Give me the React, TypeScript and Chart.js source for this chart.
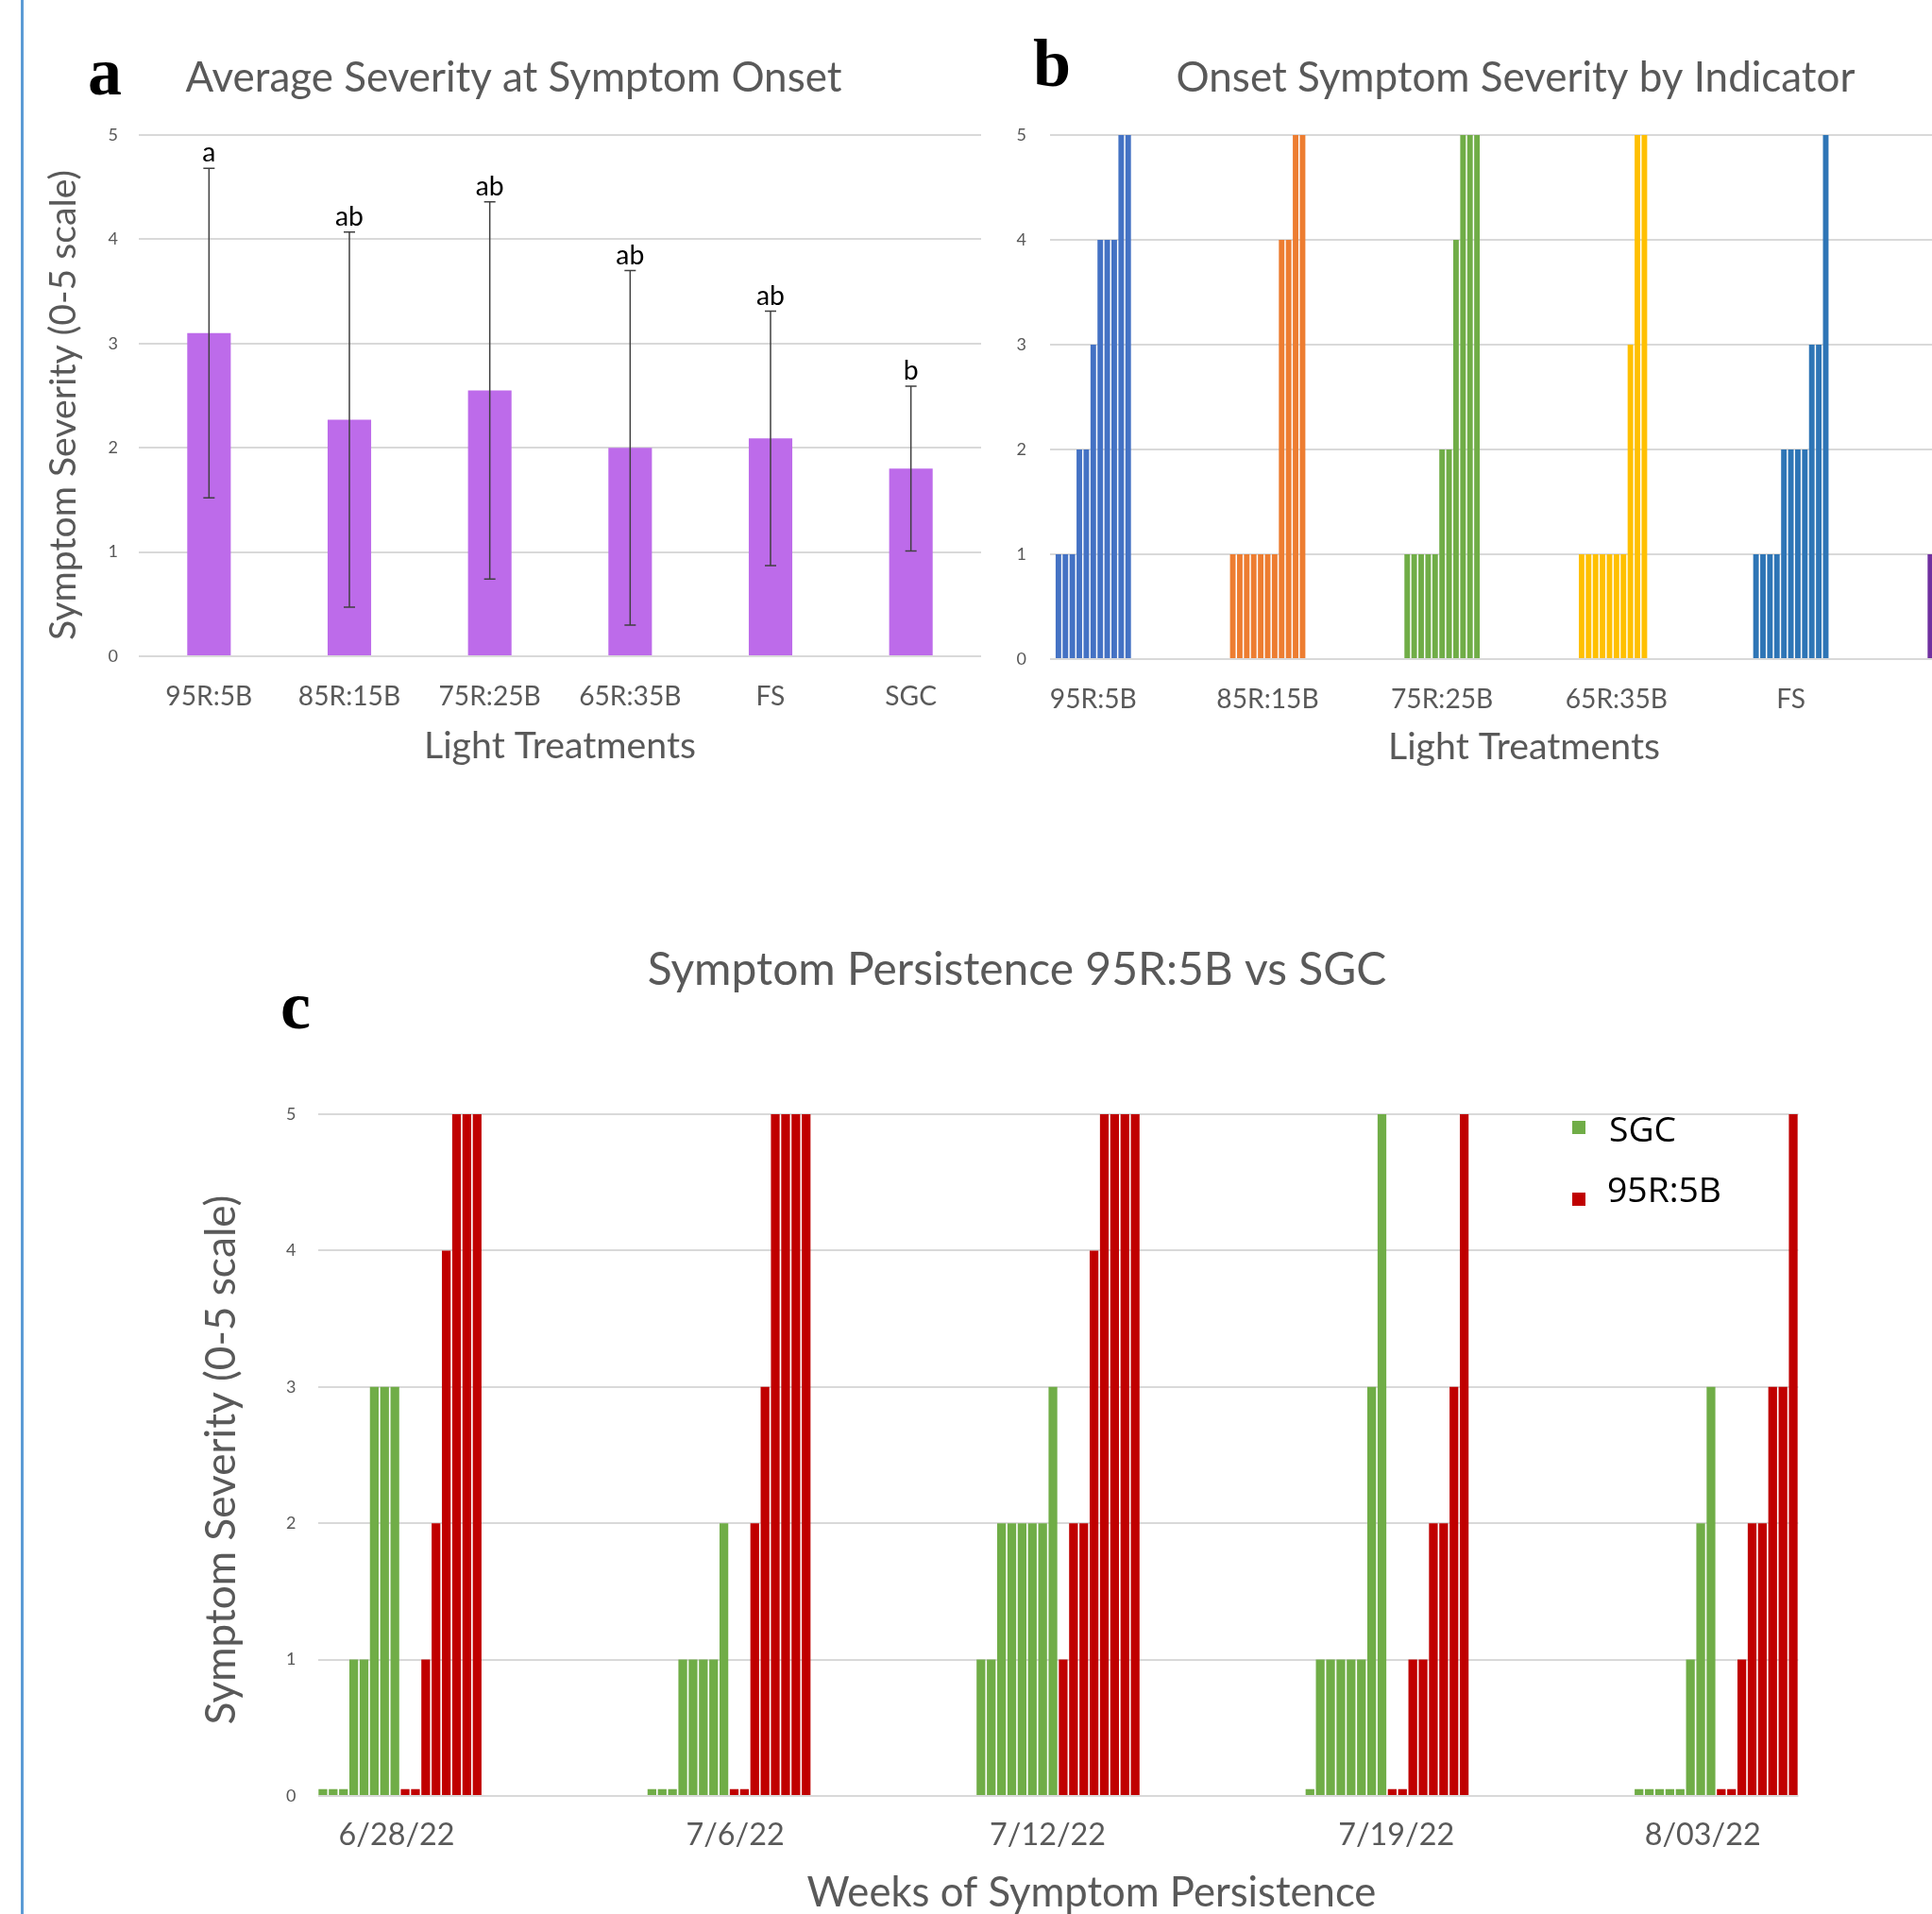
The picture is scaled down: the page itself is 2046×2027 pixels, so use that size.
import React, { useEffect, useRef } from "react";
import { Chart, registerables } from "chart.js";

Chart.register(...registerables);

// ---------------- data ----------------
// Panel a: mean onset severity (+/- SD) per light treatment
const treatments = ["95R:5B", "85R:15B", "75R:25B", "65R:35B", "FS", "SGC"];
const meanOnsetSeverity = [3.1, 2.27, 2.55, 2.0, 2.09, 1.8];
const sdOnsetSeverity = [1.58, 1.8, 1.81, 1.7, 1.22, 0.79];
const significanceLetters = ["a", "ab", "ab", "ab", "ab", "b"];

// Panel b: onset severity of each indicator plant, per treatment
const onset95R5B = [1, 1, 1, 2, 2, 3, 4, 4, 4, 5, 5];
const onset85R15B = [1, 1, 1, 1, 1, 1, 1, 4, 4, 5, 5];
const onset75R25B = [1, 1, 1, 1, 1, 2, 2, 4, 5, 5, 5];
const onset65R35B = [1, 1, 1, 1, 1, 1, 1, 3, 5, 5];
const onsetFS = [1, 1, 1, 1, 2, 2, 2, 2, 3, 3, 5];
const onsetSGC = [1, 1, 1, 1, 1, 2, 2, 3, 3, 3];
const onsetByTreatment = [onset95R5B, onset85R15B, onset75R25B, onset65R35B, onsetFS, onsetSGC];
const indicatorColors = ["#4472C4", "#ED7D31", "#70AD47", "#FFC000", "#2E75B6", "#7030A0"];

// Panel c: weekly severity per plant, SGC vs 95R:5B
const weekLabels = ["6/28/22", "7/6/22", "7/12/22", "7/19/22", "8/03/22"];
const sgcJun28 = [0.05, 0.05, 0.05, 1, 1, 3, 3, 3];
const sgcJul6 = [0.05, 0.05, 0.05, 1, 1, 1, 1, 2];
const sgcJul12 = [1, 1, 2, 2, 2, 2, 2, 3];
const sgcJul19 = [0.05, 1, 1, 1, 1, 1, 3, 5];
const sgcAug3 = [0.05, 0.05, 0.05, 0.05, 0.05, 1, 2, 3];
const r95Jun28 = [0.05, 0.05, 1, 2, 4, 5, 5, 5];
const r95Jul6 = [0.05, 0.05, 2, 3, 5, 5, 5, 5];
const r95Jul12 = [1, 2, 2, 4, 5, 5, 5, 5];
const r95Jul19 = [0.05, 0.05, 1, 1, 2, 2, 3, 5];
const r95Aug3 = [0.05, 0.05, 1, 2, 2, 3, 3, 5];
const sgcByWeek = [sgcJun28, sgcJul6, sgcJul12, sgcJul19, sgcAug3];
const r95ByWeek = [r95Jun28, r95Jul6, r95Jul12, r95Jul19, r95Aug3];

const severityTicks = [0, 1, 2, 3, 4, 5];

// ---------------- styling / layout ----------------
const GRAY = "#595959";
const GRID = "#d9d9d9";
const LATO = "Lato";
const SERIF = '"Liberation Serif"';
const OPEN = '"Open Sans"';
const SLOTS_B = 25; // slots per treatment group in panel b
const SLOTS_C = 32; // slots per week group in panel c
// hand-placed week label nudges (in slots, relative to group centre) as in the original figure
const weekLabelNudge = [-0.33, 0.6, -1.0, 0.9, -1.3];

const A = { x: 0, y: 0, w: 1060, h: 830, left: 147, top: 143, right: 1039, bottom: 695 };
const B = { x: 1040, y: 0, w: 1110, h: 830, left: 1112, top: 143, right: 2113, bottom: 698 };
const C = { x: 0, y: 900, w: 2046, h: 1127, left: 336.5, top: 1180, right: 1904.5, bottom: 1902 };

function fitSize(text: string, family: string, width: number, weight = "normal") {
  const c = document.createElement("canvas").getContext("2d") as CanvasRenderingContext2D;
  c.font = `${weight} 100px ${family}`;
  return (100 * width) / c.measureText(text).width;
}

type TextItem = {
  text: string;
  x: number;
  y: number;
  font: string;
  color: string;
  align?: CanvasTextAlign;
  rotate?: number;
};

function textPlugin(id: string, box: { x: number; y: number }, items: TextItem[]) {
  return {
    id,
    afterDraw(chart: any) {
      const ctx = chart.ctx as CanvasRenderingContext2D;
      for (const it of items) {
        ctx.save();
        ctx.translate(it.x - box.x, it.y - box.y);
        if (it.rotate) ctx.rotate(it.rotate);
        ctx.font = it.font;
        ctx.fillStyle = it.color;
        ctx.textAlign = it.align || "center";
        ctx.textBaseline = "alphabetic";
        ctx.fillText(it.text, 0, 0);
        ctx.restore();
      }
    },
  };
}

function layoutFor(box: typeof A) {
  return {
    padding: {
      left: 0,
      top: box.top - box.y,
      right: box.x + box.w - box.right,
      bottom: 0,
    },
  };
}

function yScale(box: typeof A, pad: number) {
  return {
    min: severityTicks[0],
    max: severityTicks[severityTicks.length - 1],
    afterBuildTicks: (s: any) => {
      s.ticks = severityTicks.map((v) => ({ value: v }));
    },
    ticks: { font: { family: LATO, size: 18 }, color: GRAY, padding: pad },
    grid: { color: GRID, lineWidth: 2, drawTicks: false },
    border: { display: false },
    afterFit: (s: any) => {
      s.width = box.left - box.x;
    },
  };
}

export default function App() {
  const refA = useRef<HTMLCanvasElement>(null);
  const refB = useRef<HTMLCanvasElement>(null);
  const refC = useRef<HTMLCanvasElement>(null);

  useEffect(() => {
    const charts: Chart[] = [];

    const sTitleA = fitSize("Average Severity at Symptom Onset", LATO, 695);
    const sTitleB = fitSize("Onset Symptom Severity by Indicator", LATO, 719);
    const sTitleC = fitSize("Symptom Persistence 95R:5B vs SGC", LATO, 783);
    const sYTitleA = fitSize("Symptom Severity (0-5 scale)", LATO, 498);
    const sYTitleC = fitSize("Symptom Severity (0-5 scale)", LATO, 561);
    const sXTitleAB = fitSize("Light Treatments", LATO, 288);
    const sXTitleC = fitSize("Weeks of Symptom Persistence", LATO, 603);
    const sTickAB = fitSize("95R:5B", LATO, 92);
    const sTickC = fitSize("6/28/22", LATO, 123);
    const sSig = fitSize("ab", LATO, 30);
    const sLegend = fitSize("95R:5B", OPEN, 121);

    // ---------- Panel a ----------
    const errorBars = {
      id: "errorBars",
      afterDatasetsDraw(chart: any) {
        const ctx = chart.ctx as CanvasRenderingContext2D;
        const meta = chart.getDatasetMeta(0);
        const ys = chart.scales.y;
        ctx.save();
        meta.data.forEach((bar: any, i: number) => {
          const m = meanOnsetSeverity[i];
          const sd = sdOnsetSeverity[i];
          const x = bar.x;
          const top = ys.getPixelForValue(m + sd);
          const bot = ys.getPixelForValue(m - sd);
          ctx.strokeStyle = "#404040";
          ctx.lineWidth = 1.5;
          ctx.beginPath();
          ctx.moveTo(x, top);
          ctx.lineTo(x, bot);
          ctx.moveTo(x - 6, top);
          ctx.lineTo(x + 6, top);
          ctx.moveTo(x - 6, bot);
          ctx.lineTo(x + 6, bot);
          ctx.stroke();
          ctx.fillStyle = "#000";
          ctx.font = `${sSig}px ${LATO}`;
          ctx.textAlign = "center";
          ctx.textBaseline = "alphabetic";
          ctx.fillText(significanceLetters[i], x, top - 7);
        });
        ctx.restore();
      },
    };

    if (refA.current) {
      charts.push(
        new Chart(refA.current, {
          type: "bar",
          data: {
            labels: treatments,
            datasets: [
              {
                label: "Average Severity at Symptom Onset",
                data: meanOnsetSeverity,
                backgroundColor: "#BD6BEA",
                categoryPercentage: 0.31,
                barPercentage: 1,
              },
            ],
          },
          options: {
            responsive: false,
            animation: false,
            devicePixelRatio: 1,
            layout: layoutFor(A),
            plugins: { legend: { display: false }, tooltip: { enabled: false } },
            scales: {
              x: {
                grid: { display: false },
                border: { display: false },
                ticks: {
                  font: { family: LATO, size: sTickAB },
                  color: GRAY,
                  padding: 729.5 - A.bottom - 0.6 * sTickAB,
                  maxRotation: 0,
                  autoSkip: false,
                },
                afterFit: (s: any) => {
                  s.height = A.y + A.h - A.bottom;
                },
              },
              y: yScale(A, 22),
            },
          } as any,
          plugins: [
            errorBars,
            textPlugin("textsA", A, [
              { text: "a", x: 111, y: 100, font: `bold 72px ${SERIF}`, color: "#000" },
              { text: "Average Severity at Symptom Onset", x: 544, y: 97, font: `${sTitleA}px ${LATO}`, color: GRAY },
              {
                text: "Symptom Severity (0-5 scale)",
                x: 69.5 + 0.258 * sYTitleA,
                y: 429,
                font: `${sYTitleA}px ${LATO}`,
                color: GRAY,
                rotate: -Math.PI / 2,
              },
              { text: "Light Treatments", x: 593, y: 803, font: `${sXTitleAB}px ${LATO}`, color: GRAY },
            ]),
          ] as any,
        })
      );
    }

    // ---------- Panel b ----------
    const pointsB: { x: number; y: number }[] = [];
    const colorsB: string[] = [];
    onsetByTreatment.forEach((vals, g) => {
      vals.forEach((v, i) => {
        pointsB.push({ x: g * SLOTS_B + i, y: v });
        colorsB.push(indicatorColors[g]);
      });
    });

    if (refB.current) {
      charts.push(
        new Chart(refB.current, {
          type: "bar",
          data: {
            datasets: [
              {
                label: "Onset Symptom Severity by Indicator",
                data: pointsB,
                backgroundColor: colorsB,
                categoryPercentage: 1,
                barPercentage: 0.8,
              },
            ],
          },
          options: {
            responsive: false,
            animation: false,
            devicePixelRatio: 1,
            layout: layoutFor(B),
            plugins: { legend: { display: false }, tooltip: { enabled: false } },
            scales: {
              x: {
                type: "linear",
                min: -1.2,
                max: 134.3,
                offset: false,
                grid: { display: false },
                border: { display: false },
                afterBuildTicks: (s: any) => {
                  s.ticks = treatments.map((_, g) => ({ value: g * SLOTS_B + 5 }));
                },
                ticks: {
                  font: { family: LATO, size: sTickAB },
                  color: GRAY,
                  padding: 732.5 - B.bottom - 0.6 * sTickAB,
                  maxRotation: 0,
                  autoSkip: false,
                  callback: (_v: any, i: number) => treatments[i],
                },
                afterFit: (s: any) => {
                  s.height = B.y + B.h - B.bottom;
                },
              },
              y: yScale(B, 25),
            },
          } as any,
          plugins: [
            textPlugin("textsB", B, [
              { text: "b", x: 1114, y: 91, font: `bold 72px ${SERIF}`, color: "#000" },
              { text: "Onset Symptom Severity by Indicator", x: 1605, y: 97, font: `${sTitleB}px ${LATO}`, color: GRAY },
              { text: "Light Treatments", x: 1614, y: 804, font: `${sXTitleAB}px ${LATO}`, color: GRAY },
            ]),
          ] as any,
        })
      );
    }

    // ---------- Panel c ----------
    const sgcPoints: { x: number; y: number }[] = [];
    const r95Points: { x: number; y: number }[] = [];
    weekLabels.forEach((_, w) => {
      sgcByWeek[w].forEach((v, i) => sgcPoints.push({ x: w * SLOTS_C + i, y: v }));
      r95ByWeek[w].forEach((v, i) => r95Points.push({ x: w * SLOTS_C + sgcByWeek[w].length + i, y: v }));
    });

    const legendC = {
      id: "legendC",
      afterDraw(chart: any) {
        const ctx = chart.ctx as CanvasRenderingContext2D;
        const entries = [
          { sq: [1665, 1187], tx: [1704, 1209] },
          { sq: [1665, 1263], tx: [1702, 1273] },
        ];
        ctx.save();
        chart.data.datasets.forEach((ds: any, i: number) => {
          const e = entries[i];
          ctx.fillStyle = ds.backgroundColor;
          ctx.fillRect(e.sq[0] - C.x, e.sq[1] - C.y, 14, 14);
          ctx.fillStyle = "#000";
          ctx.font = `${sLegend}px ${OPEN}`;
          ctx.textAlign = "left";
          ctx.textBaseline = "alphabetic";
          ctx.fillText(ds.label, e.tx[0] - C.x, e.tx[1] - C.y);
        });
        ctx.restore();
      },
    };

    if (refC.current) {
      charts.push(
        new Chart(refC.current, {
          type: "bar",
          data: {
            datasets: [
              {
                label: "SGC",
                data: sgcPoints,
                backgroundColor: "#70AD47",
                grouped: false,
                categoryPercentage: 1,
                barPercentage: 0.85,
              },
              {
                label: "95R:5B",
                data: r95Points,
                backgroundColor: "#C00000",
                grouped: false,
                categoryPercentage: 1,
                barPercentage: 0.85,
              },
            ],
          },
          options: {
            responsive: false,
            animation: false,
            devicePixelRatio: 1,
            layout: layoutFor(C),
            plugins: { legend: { display: false }, tooltip: { enabled: false } },
            scales: {
              x: {
                type: "linear",
                min: -0.5,
                max: weekLabels.length * SLOTS_C - SLOTS_C / 2 - 0.5,
                offset: false,
                grid: { display: false },
                border: { display: false },
                afterBuildTicks: (s: any) => {
                  s.ticks = weekLabels.map((_, w) => ({ value: w * SLOTS_C + 7.5 + weekLabelNudge[w] }));
                },
                ticks: {
                  font: { family: LATO, size: sTickC },
                  color: GRAY,
                  padding: 1936 - C.bottom - 0.6 * sTickC,
                  maxRotation: 0,
                  autoSkip: false,
                  callback: (_v: any, i: number) => weekLabels[i],
                },
                afterFit: (s: any) => {
                  s.height = C.y + C.h - C.bottom;
                },
              },
              y: yScale(C, 23),
            },
          } as any,
          plugins: [
            legendC,
            textPlugin("textsC", C, [
              { text: "c", x: 313, y: 1089, font: `bold 72px ${SERIF}`, color: "#000" },
              { text: "Symptom Persistence 95R:5B vs SGC", x: 1077, y: 1043, font: `${sTitleC}px ${LATO}`, color: GRAY },
              {
                text: "Symptom Severity (0-5 scale)",
                x: 237.5 + 0.258 * sYTitleC,
                y: 1546,
                font: `${sYTitleC}px ${LATO}`,
                color: GRAY,
                rotate: -Math.PI / 2,
              },
              { text: "Weeks of Symptom Persistence", x: 1156, y: 2019, font: `${sXTitleC}px ${LATO}`, color: GRAY },
            ]),
          ] as any,
        })
      );
    }

    return () => {
      charts.forEach((c) => c.destroy());
    };
  }, []);

  const canvasStyle = (b: typeof A): React.CSSProperties => ({
    position: "absolute",
    left: b.x,
    top: b.y,
    width: b.w,
    height: b.h,
  });

  return (
    <div
      style={{
        position: "fixed",
        left: 0,
        top: 0,
        width: 2046,
        height: 2027,
        overflow: "hidden",
        background: "#ffffff",
      }}
    >
      <div style={{ position: "absolute", left: 22, top: 0, width: 3, height: 2027, background: "#5B9BD5" }} />
      <canvas ref={refA} width={A.w} height={A.h} style={canvasStyle(A)} />
      <canvas ref={refB} width={B.w} height={B.h} style={canvasStyle(B)} />
      <canvas ref={refC} width={C.w} height={C.h} style={canvasStyle(C)} />
    </div>
  );
}
